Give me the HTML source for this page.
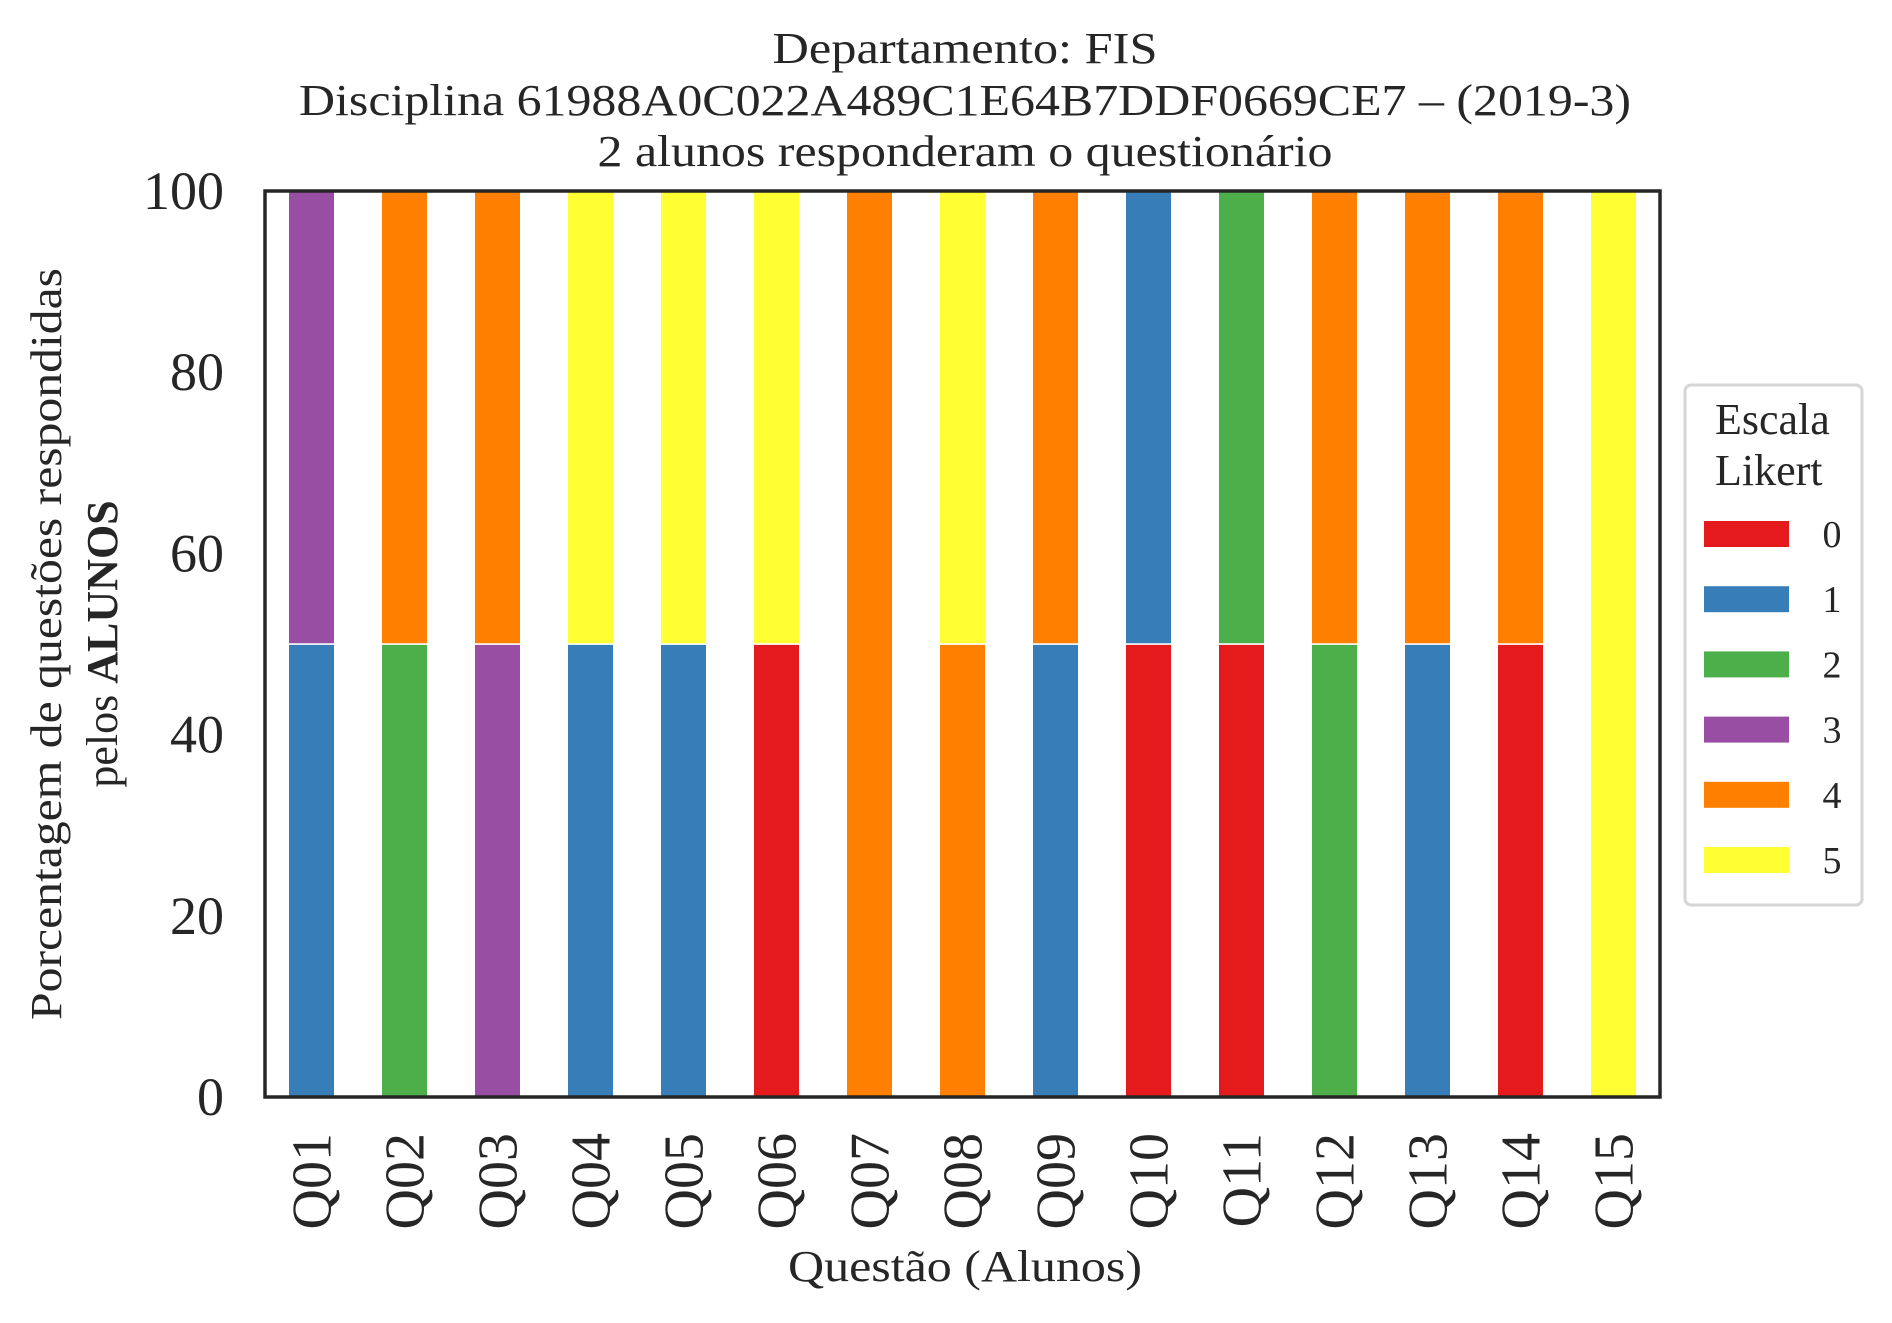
<!DOCTYPE html>
<html><head><meta charset="utf-8"><style>
html,body{margin:0;padding:0;background:#fff;}
svg{display:block;font-family:"Liberation Serif","Times New Roman",serif;fill:#262626;}
</style></head><body>
<svg id="chart" width="1892" height="1323" viewBox="0 0 1892 1323">
<g font-size="44" text-anchor="middle">
<text x="965" y="63" textLength="385" lengthAdjust="spacingAndGlyphs">Departamento: FIS</text>
<text x="965" y="115" textLength="1332" lengthAdjust="spacingAndGlyphs">Disciplina 61988A0C022A489C1E64B7DDF0669CE7 – (2019-3)</text>
<text x="965" y="166" textLength="735" lengthAdjust="spacingAndGlyphs">2 alunos responderam o questionário</text>
</g>
<g id="bars"></g>
<rect x="265" y="191" width="1395" height="906" fill="none" stroke="#262626" stroke-width="3.5"/>
<g id="yticks" font-size="54" text-anchor="end"></g>
<g id="xticks" font-size="56" text-anchor="end"></g>
<g font-size="44" text-anchor="middle">
<text transform="translate(61,644) rotate(-90)" textLength="752" lengthAdjust="spacingAndGlyphs">Porcentagem de questões respondidas</text>
<text transform="translate(117,644) rotate(-90)">pelos <tspan font-weight="bold">ALUNOS</tspan></text>
</g>
<text x="965" y="1281" font-size="44" text-anchor="middle" textLength="354" lengthAdjust="spacingAndGlyphs">Questão (Alunos)</text>
<g id="legend">
<rect x="1685" y="385" width="177" height="520" rx="6" fill="#fff" stroke="#d6d6d6" stroke-width="3"/>
<text x="1715" y="434" font-size="44">Escala</text>
<text x="1715" y="485" font-size="44">Likert</text>
</g>
</svg>
<script>
const categories = ["Q01","Q02","Q03","Q04","Q05","Q06","Q07","Q08","Q09","Q10","Q11","Q12","Q13","Q14","Q15"];
const levels = ["0","1","2","3","4","5"];
const s0 = [0,0,0,0,0,50,0,0,0,50,50,0,0,50,0];
const s1 = [50,0,0,50,50,0,0,0,50,50,0,0,50,0,0];
const s2 = [0,50,0,0,0,0,0,0,0,0,50,50,0,0,0];
const s3 = [50,0,50,0,0,0,0,0,0,0,0,0,0,0,0];
const s4 = [0,50,50,0,0,0,100,50,50,0,0,50,50,50,0];
const s5 = [0,0,0,50,50,50,0,50,0,0,0,0,0,0,100];
const yTicks = [0,20,40,60,80,100];
const colors = ["#e41a1c","#377eb8","#4daf4a","#984ea3","#ff7f00","#ffff33"];
const series = [s0,s1,s2,s3,s4,s5];
const NS="http://www.w3.org/2000/svg";
const L=265,R=1660,T=191,B=1097;
const step=(R-L)/categories.length;
const xc=i=>L+step*(i+0.5);
const y=v=>B-(v/100)*(B-T);
const bars=document.getElementById('bars');
categories.forEach((c,i)=>{
  let acc=0;
  series.forEach((s,k)=>{
    const v=s[i]; if(!v) return;
    const r=document.createElementNS(NS,'rect');
    const w=step*0.5;
    r.setAttribute('x',xc(i)-w/2);
    r.setAttribute('y',y(acc+v));
    r.setAttribute('width',w);
    r.setAttribute('height',y(acc)-y(acc+v));
    r.setAttribute('fill',colors[k]);
    r.setAttribute('stroke','#fff');
    r.setAttribute('stroke-width','1.5');
    
    
    bars.appendChild(r);
    acc+=v;
  });
});
const yt=document.getElementById('yticks');
yTicks.forEach(t=>{
  const e=document.createElementNS(NS,'text');
  e.setAttribute('x',224);e.setAttribute('y',y(t)+18);
  e.textContent=t;
  
  
  yt.appendChild(e);
});
const xt=document.getElementById('xticks');
categories.forEach((c,i)=>{
  const e=document.createElementNS(NS,'text');
  e.setAttribute('transform','translate('+(xc(i)+19)+',1133) rotate(-90)');
  e.textContent=c;
  
  
  xt.appendChild(e);
});
const lg=document.getElementById('legend');
levels.forEach((l,k)=>{
  const cy=534+k*65.2;
  const r=document.createElementNS(NS,'rect');
  r.setAttribute('x',1704);r.setAttribute('y',cy-13);
  r.setAttribute('width',85);r.setAttribute('height',26);
  r.setAttribute('fill',colors[k]);
  
  
  lg.appendChild(r);
  const t=document.createElementNS(NS,'text');
  t.setAttribute('x',1832);t.setAttribute('y',cy+13);
  t.setAttribute('font-size','38');t.setAttribute('text-anchor','middle');
  t.textContent=l;
  
  
  lg.appendChild(t);
});
</script>
</body></html>
